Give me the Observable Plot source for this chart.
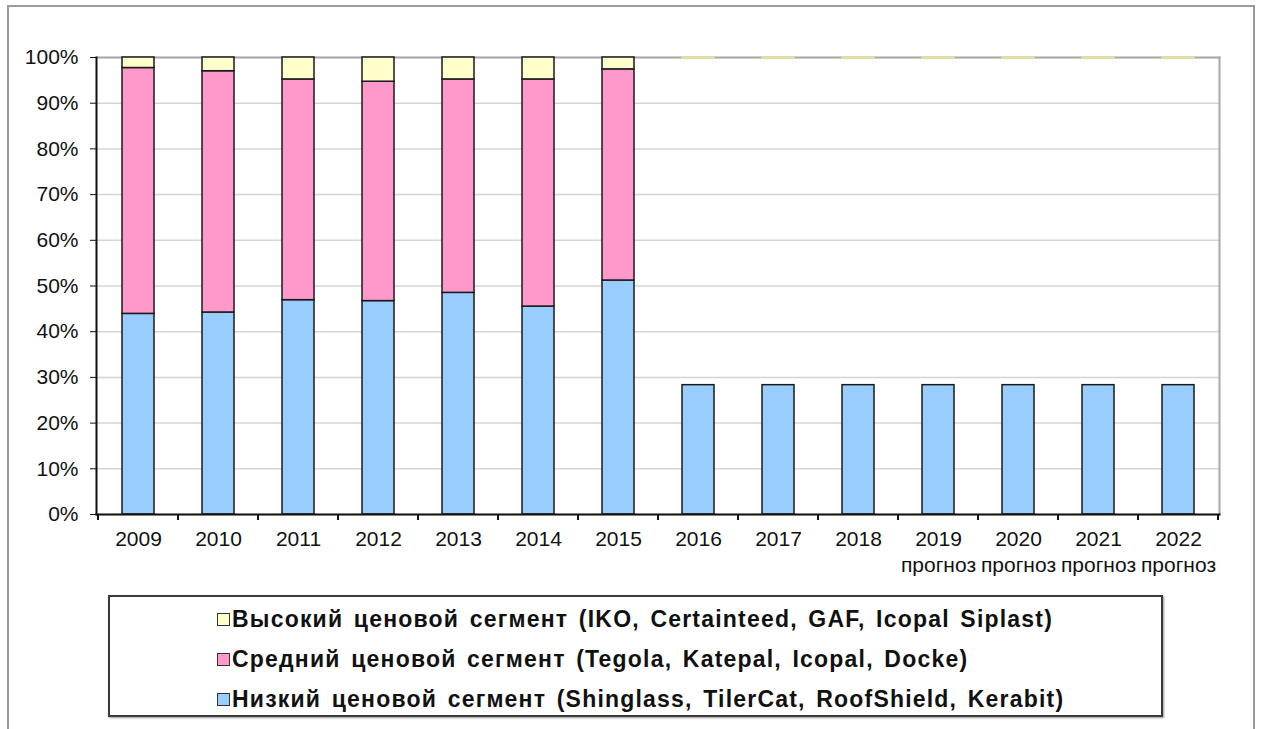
<!DOCTYPE html>
<html>
<head>
<meta charset="utf-8">
<script src="https://cdn.jsdelivr.net/npm/d3@7"></script>
<script src="https://cdn.jsdelivr.net/npm/@observablehq/plot@0.6"></script>
<style>
  html, body { margin: 0; padding: 0; background: #fff; }
  body { width: 1264px; height: 729px; position: relative; overflow: hidden; font-family: "Liberation Sans", Arial, sans-serif; }
  #frame { position: absolute; left: 7px; top: 5px; width: 1248px; height: 740px; border: 2px solid #9a9a9a; box-sizing: border-box; }
  #chart { position: absolute; left: 0; top: 0; }
  #legend { position: absolute; left: 108px; top: 595px; width: 1055px; height: 122px; border: 2px solid #3a3a3a; box-sizing: border-box; box-shadow: 1px 1px 2px #999; background: #fff; }
  .item { position: absolute; left: 107px; height: 30px; display: flex; align-items: center; font-weight: bold; font-size: 23px; letter-spacing: 1.2px; word-spacing: 3px; color: #111; white-space: pre; }
  .sw { width: 11px; height: 11px; border: 1.5px solid #333; margin-right: 2px; }
</style>
</head>
<body>
<div id="frame"></div>
<div id="chart"></div>
<div id="legend"></div>
<script>
const years = ["2009","2010","2011","2012","2013","2014","2015","2016","2017","2018","2019","2020","2021","2022"];
const notes = ["","","","","","","","","","","прогноз","прогноз","прогноз","прогноз"];
const low  = [43.9, 44.2, 46.9, 46.7, 48.5, 45.5, 51.2, 28.3, 28.3, 28.3, 28.3, 28.3, 28.3, 28.3];
const mid  = [53.8, 52.8, 48.3, 48.0, 46.7, 49.7, 46.2, 0, 0, 0, 0, 0, 0, 0];
const high = [2.3, 3.0, 4.8, 5.3, 4.8, 4.8, 2.6, 0.3, 0.3, 0.3, 0.3, 0.3, 0.3, 0.3];
const seriesNames = [
  "Высокий ценовой сегмент (IKO, Certainteed, GAF, Icopal Siplast)",
  "Средний ценовой сегмент (Tegola, Katepal, Icopal, Docke)",
  "Низкий ценовой сегмент (Shinglass, TilerCat, RoofShield, Kerabit)"
];
const colors = ["#ffffcc", "#ff99cc", "#99ccff"];
const yTicks = [0,10,20,30,40,50,60,70,80,90,100];

const lowRows = years.map((y, i) => ({year: y, y1: 0, y2: low[i]}));
const midRows = years.map((y, i) => ({year: y, y1: low[i], y2: low[i] + mid[i]})).filter((d, i) => mid[i] > 0);
const highRows = years.map((y, i) => ({year: y, y1: 100 - high[i], y2: 100, thin: high[i] < 1}));

const chart = Plot.plot({
  width: 1264,
  height: 590,
  marginTop: 57,
  marginLeft: 96,
  marginRight: 45,
  marginBottom: 76,
  style: {fontFamily: "'Liberation Sans', Arial, sans-serif", color: "#111", background: "transparent"},
  x: {domain: years, paddingInner: 0.6, paddingOuter: 0.3, label: null},
  y: {domain: [0, 100], label: null},
  marks: [
    Plot.gridY(yTicks, {stroke: "#d4d4d4", strokeOpacity: 1, strokeWidth: 1.5}),
    Plot.frame({anchor: "top", stroke: "#a8a8a8", strokeWidth: 2}),
    Plot.frame({anchor: "right", stroke: "#a8a8a8", strokeWidth: 2}),
    Plot.rectY(lowRows, {x: "year", y1: "y1", y2: "y2", fill: colors[2], stroke: "#1a1a1a", strokeWidth: 1.5}),
    Plot.rectY(midRows, {x: "year", y1: "y1", y2: "y2", fill: colors[1], stroke: "#1a1a1a", strokeWidth: 1.5}),
    Plot.rectY(highRows, {x: "year", y1: "y1", y2: "y2", fill: colors[0], stroke: d => d.thin ? "#e0e0a0" : "#1a1a1a", strokeWidth: 1.5}),
    Plot.axisY(yTicks, {tickFormat: d => d + "%", tickSize: 6, tickPadding: 12, fontSize: 21, stroke: "#111"}),
    Plot.axisX({tickSize: 0, tickPadding: 14, fontSize: 21, lineHeight: 1.2,
      tickFormat: d => notes[years.indexOf(d)] ? d + "\n" + notes[years.indexOf(d)] : d}),
    Plot.frame({anchor: "left", stroke: "#111", strokeWidth: 2}),
    Plot.frame({anchor: "bottom", stroke: "#111", strokeWidth: 2})
  ]
});
document.getElementById("chart").appendChild(chart);

// category boundary ticks on x axis, from the library's band scale
const xs = chart.scale("x");
const half = (xs.step - xs.bandwidth) / 2;
const bounds = years.map(y => xs.apply(y) - half).concat([xs.apply(years[years.length - 1]) + xs.bandwidth + half]);
const ys = chart.scale("y");
const y0 = ys.apply(0);
d3.select(chart).append("g")
  .selectAll("line").data(bounds).join("line")
  .attr("x1", d => d).attr("x2", d => d)
  .attr("y1", y0).attr("y2", y0 + 6)
  .attr("stroke", "#111").attr("stroke-width", 2);

// legend
const leg = d3.select("#legend");
seriesNames.forEach((name, i) => {
  const it = leg.append("div").attr("class", "item").style("top", (7 + i * 40) + "px");
  it.append("div").attr("class", "sw").style("background", colors[i]);
  it.append("span").text(name);
});
</script>
</body>
</html>
